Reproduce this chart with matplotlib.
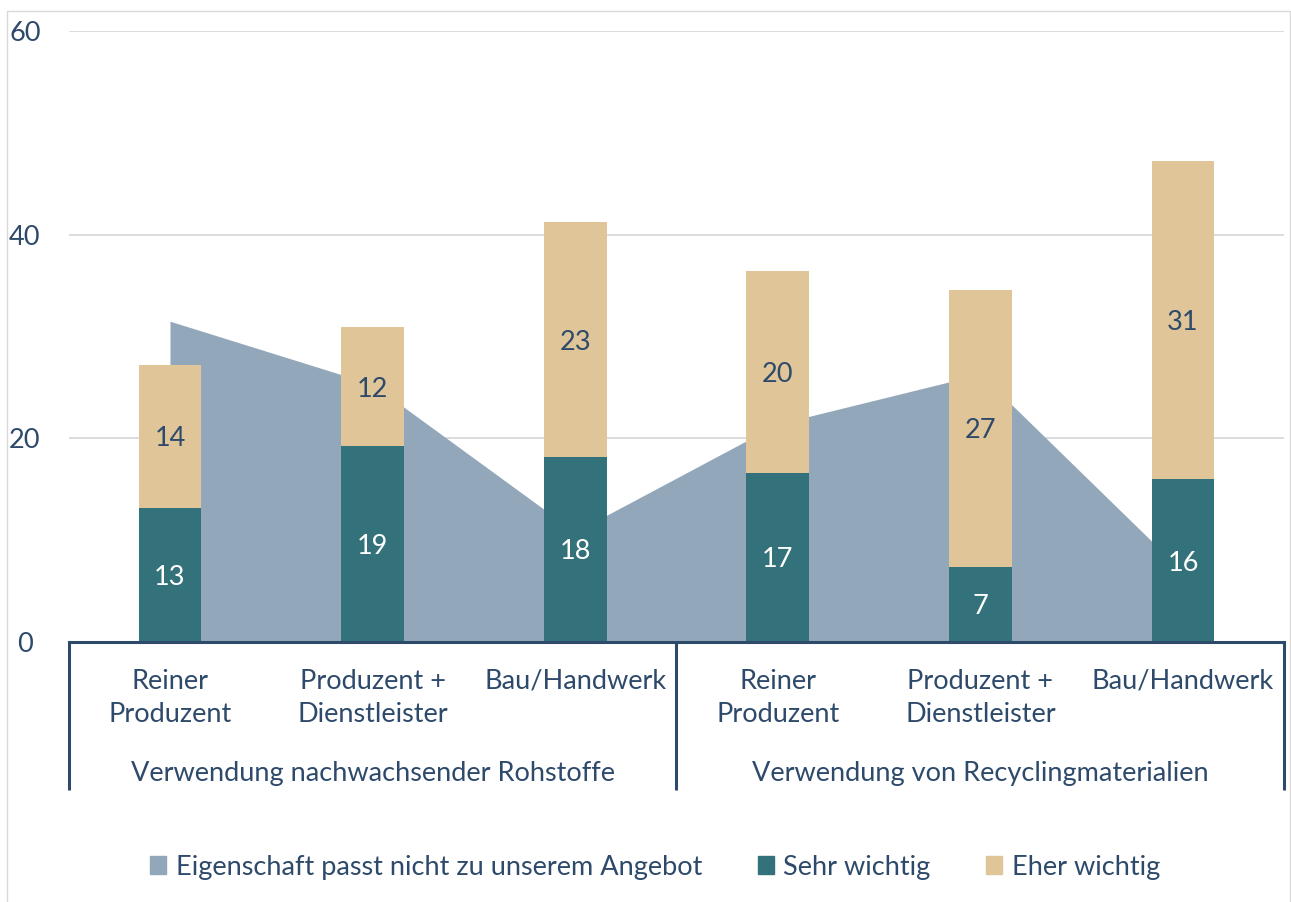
import matplotlib
matplotlib.use("Agg")
import matplotlib.pyplot as plt
from matplotlib.patches import Patch
from matplotlib.lines import Line2D
import numpy as np

plt.rcParams['font.family'] = ['Lato', 'DejaVu Sans']

categories = ["Reiner\nProduzent", "Produzent +\nDienstleister", "Bau/Handwerk",
              "Reiner\nProduzent", "Produzent +\nDienstleister", "Bau/Handwerk"]
groups = ["Verwendung nachwachsender Rohstoffe", "Verwendung von Recyclingmaterialien"]
passt_nicht = [31.5, 25.3, 10.8, 21.4, 26.3, 6.9]
sehr_wichtig = [13.2, 19.25, 18.2, 16.6, 7.4, 16.0]
eher_wichtig = [14.0, 11.65, 23.0, 19.8, 27.2, 31.2]
series_names = ["Eigenschaft passt nicht zu unserem Angebot", "Sehr wichtig", "Eher wichtig"]
yticks = [0, 20, 40, 60]

c_area = "#93A7BA"
c_sehr = "#33727A"
c_eher = "#E0C598"
c_text = "#2E4A6B"
c_grid = "#D9D9D9"

W, H = 1291, 902
fig = plt.figure(figsize=(W / 100, H / 100), dpi=100)
left, right, top, bottom = 68.7, 1284.3, 31, 642
ax = fig.add_axes([left / W, 1 - bottom / H, (right - left) / W, (bottom - top) / H])

x = np.arange(len(categories))
ax.fill_between(x, passt_nicht, 0, color=c_area, lw=0, zorder=1)
bw = 0.31
ax.bar(x, sehr_wichtig, width=bw, color=c_sehr, zorder=2)
ax.bar(x, eher_wichtig, width=bw, bottom=sehr_wichtig, color=c_eher, zorder=2)

fs = 19.5
for i in x:
    ax.text(i, sehr_wichtig[i] / 2, f"{sehr_wichtig[i]:.0f}", ha="center",
            va="center_baseline", color="white", fontsize=fs, zorder=3)
    ax.text(i, sehr_wichtig[i] + eher_wichtig[i] / 2, f"{eher_wichtig[i]:.0f}", ha="center",
            va="center_baseline", color=c_text, fontsize=fs, zorder=3)

ax.set_xlim(-0.5, len(categories) - 0.5)
ax.set_ylim(0, 60)
ax.set_yticks(yticks)
ax.set_yticklabels([str(t) for t in yticks], ha="center")
ax.tick_params(axis="y", length=0, pad=31.5, labelsize=fs, labelcolor=c_text)
ax.set_xticks([])
for t in yticks[1:]:
    ax.axhline(t, color=c_grid, lw=1.3, zorder=0)
for s in ["top", "right", "left"]:
    ax.spines[s].set_visible(False)
ax.spines["bottom"].set_color(c_text)
ax.spines["bottom"].set_linewidth(2.2)
ax.spines["bottom"].set_zorder(4)

ph = bottom - top
def yfrac(py):
    return (bottom - py) / ph

trans = ax.get_xaxis_transform()
for xs in [-0.5, 2.5, 5.5]:
    ax.plot([xs, xs], [0, yfrac(790)], transform=trans, color=c_text, lw=2.2,
            clip_on=False, solid_capstyle="butt")
for i, lab in enumerate(categories):
    ax.text(i, yfrac(669), lab, transform=trans, ha="center", va="top",
            fontsize=fs, color=c_text, linespacing=1.42)
for g, lab in enumerate(groups):
    ax.text(1 + 3 * g, yfrac(774), lab, transform=trans, ha="center", va="center",
            fontsize=fs, color=c_text)

handles = [Patch(color=c_area), Patch(color=c_sehr), Patch(color=c_eher)]
fig.legend(handles, series_names, loc="center", bbox_to_anchor=(655 / W, 1 - 867 / H),
           ncol=3, frameon=False, fontsize=fs, labelcolor=c_text,
           handlelength=0.6, handleheight=0.6, handletextpad=0.35, columnspacing=2.05)

# light outer frame (left, top, right)
bx = [7 / W, 7 / W, 1290 / W, 1290 / W]
by = [0, 1 - 11 / H, 1 - 11 / H, 0]
fig.lines.append(Line2D(bx, by, transform=fig.transFigure, color="#D9D9D9", lw=1))

fig.savefig("out.png", dpi=100)
